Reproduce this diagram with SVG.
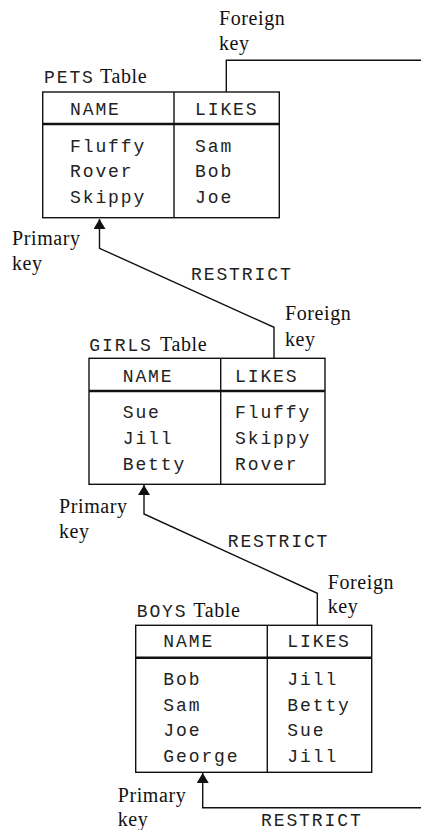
<svg xmlns="http://www.w3.org/2000/svg" width="421" height="830" viewBox="0 0 421 830">
<style>
.mono{font-family:"Liberation Mono","Courier New",monospace;font-size:18px;letter-spacing:1.9px;fill:#222}
.serif{font-family:"Liberation Serif","Times New Roman",serif;font-size:20px;letter-spacing:0.6px;fill:#111}
.box{fill:#fff;stroke:#111;stroke-width:1.4}
.sep{stroke:#111;stroke-width:2.4}
.div{stroke:#111;stroke-width:1.4}
.conn{fill:none;stroke:#111;stroke-width:1.4}
</style>
<defs>
<marker id="arr" markerUnits="userSpaceOnUse" markerWidth="12" markerHeight="12" refX="10" refY="6" orient="auto" viewBox="0 0 12 12">
<path d="M0,0 L10,6 L0,12 z" fill="#111"/>
</marker>
</defs>
<rect width="421" height="830" fill="#fff"/>
<g id="connectors">
<path class="conn" d="M226.3 92 V60.3 H421"/>
<path class="conn" d="M274 358.3 V327.3 L99.5 248.3 V219" marker-end="url(#arr)"/>
<path class="conn" d="M317.3 625.3 V593.3 L144 514 V485" marker-end="url(#arr)"/>
<path class="conn" d="M421 807.7 H202.7 V773" marker-end="url(#arr)"/>
<text class="mono" x="191" y="280">RESTRICT</text>
<text class="mono" x="227.7" y="546.7">RESTRICT</text>
<text class="mono" x="261" y="825.5">RESTRICT</text>
<text class="serif" x="219" y="25">Foreign</text>
<text class="serif" x="219" y="50">key</text>
<text class="serif" x="12" y="245">Primary</text>
<text class="serif" x="12" y="270">key</text>
<text class="serif" x="285" y="320">Foreign</text>
<text class="serif" x="285" y="346">key</text>
<text class="serif" x="59" y="513.3">Primary</text>
<text class="serif" x="59" y="538.3">key</text>
<text class="serif" x="327.7" y="589">Foreign</text>
<text class="serif" x="327.7" y="613.3">key</text>
<text class="serif" x="117.7" y="801.7">Primary</text>
<text class="serif" x="117.7" y="825.5">key</text>
</g>
<g id="pets">
<text class="mono" x="44" y="83.3">PETS</text><text class="serif" x="100" y="83.3">Table</text>
<rect class="box" x="42.7" y="92" width="236.6" height="125.7"/>
<line class="sep" x1="42.7" y1="124" x2="279.3" y2="124"/>
<line class="div" x1="174" y1="92" x2="174" y2="217.7"/>
<text class="mono" x="70" y="115">NAME</text>
<text class="mono" x="195" y="115">LIKES</text>
<text class="mono" x="70" y="151.7">Fluffy</text>
<text class="mono" x="70" y="177">Rover</text>
<text class="mono" x="70" y="202.7">Skippy</text>
<text class="mono" x="195" y="151.7">Sam</text>
<text class="mono" x="195" y="177">Bob</text>
<text class="mono" x="195" y="202.7">Joe</text>
</g>
<g id="girls">
<text class="mono" x="89.3" y="350.7">GIRLS</text><text class="serif" x="160" y="350.7">Table</text>
<rect class="box" x="89" y="358.3" width="236" height="126"/>
<line class="sep" x1="89" y1="391" x2="325" y2="391"/>
<line class="div" x1="220.7" y1="358.3" x2="220.7" y2="484.3"/>
<text class="mono" x="122.7" y="381.7">NAME</text>
<text class="mono" x="235" y="381.7">LIKES</text>
<text class="mono" x="122.7" y="418.3">Sue</text>
<text class="mono" x="122.7" y="444">Jill</text>
<text class="mono" x="122.7" y="469.5">Betty</text>
<text class="mono" x="235" y="418.3">Fluffy</text>
<text class="mono" x="235" y="444">Skippy</text>
<text class="mono" x="235" y="469.5">Rover</text>
</g>
<g id="boys">
<text class="mono" x="136.7" y="616.7">BOYS</text><text class="serif" x="193.3" y="616.7">Table</text>
<rect class="box" x="135.7" y="625.3" width="236" height="147"/>
<line class="sep" x1="135.7" y1="657.7" x2="371.7" y2="657.7"/>
<line class="div" x1="267.3" y1="625.3" x2="267.3" y2="772.3"/>
<text class="mono" x="163.3" y="646.7">NAME</text>
<text class="mono" x="287.3" y="646.7">LIKES</text>
<text class="mono" x="163.3" y="685">Bob</text>
<text class="mono" x="163.3" y="710.5">Sam</text>
<text class="mono" x="163.3" y="736">Joe</text>
<text class="mono" x="163.3" y="761.5">George</text>
<text class="mono" x="287.3" y="685">Jill</text>
<text class="mono" x="287.3" y="710.5">Betty</text>
<text class="mono" x="287.3" y="736">Sue</text>
<text class="mono" x="287.3" y="761.5">Jill</text>
</g>
</svg>
